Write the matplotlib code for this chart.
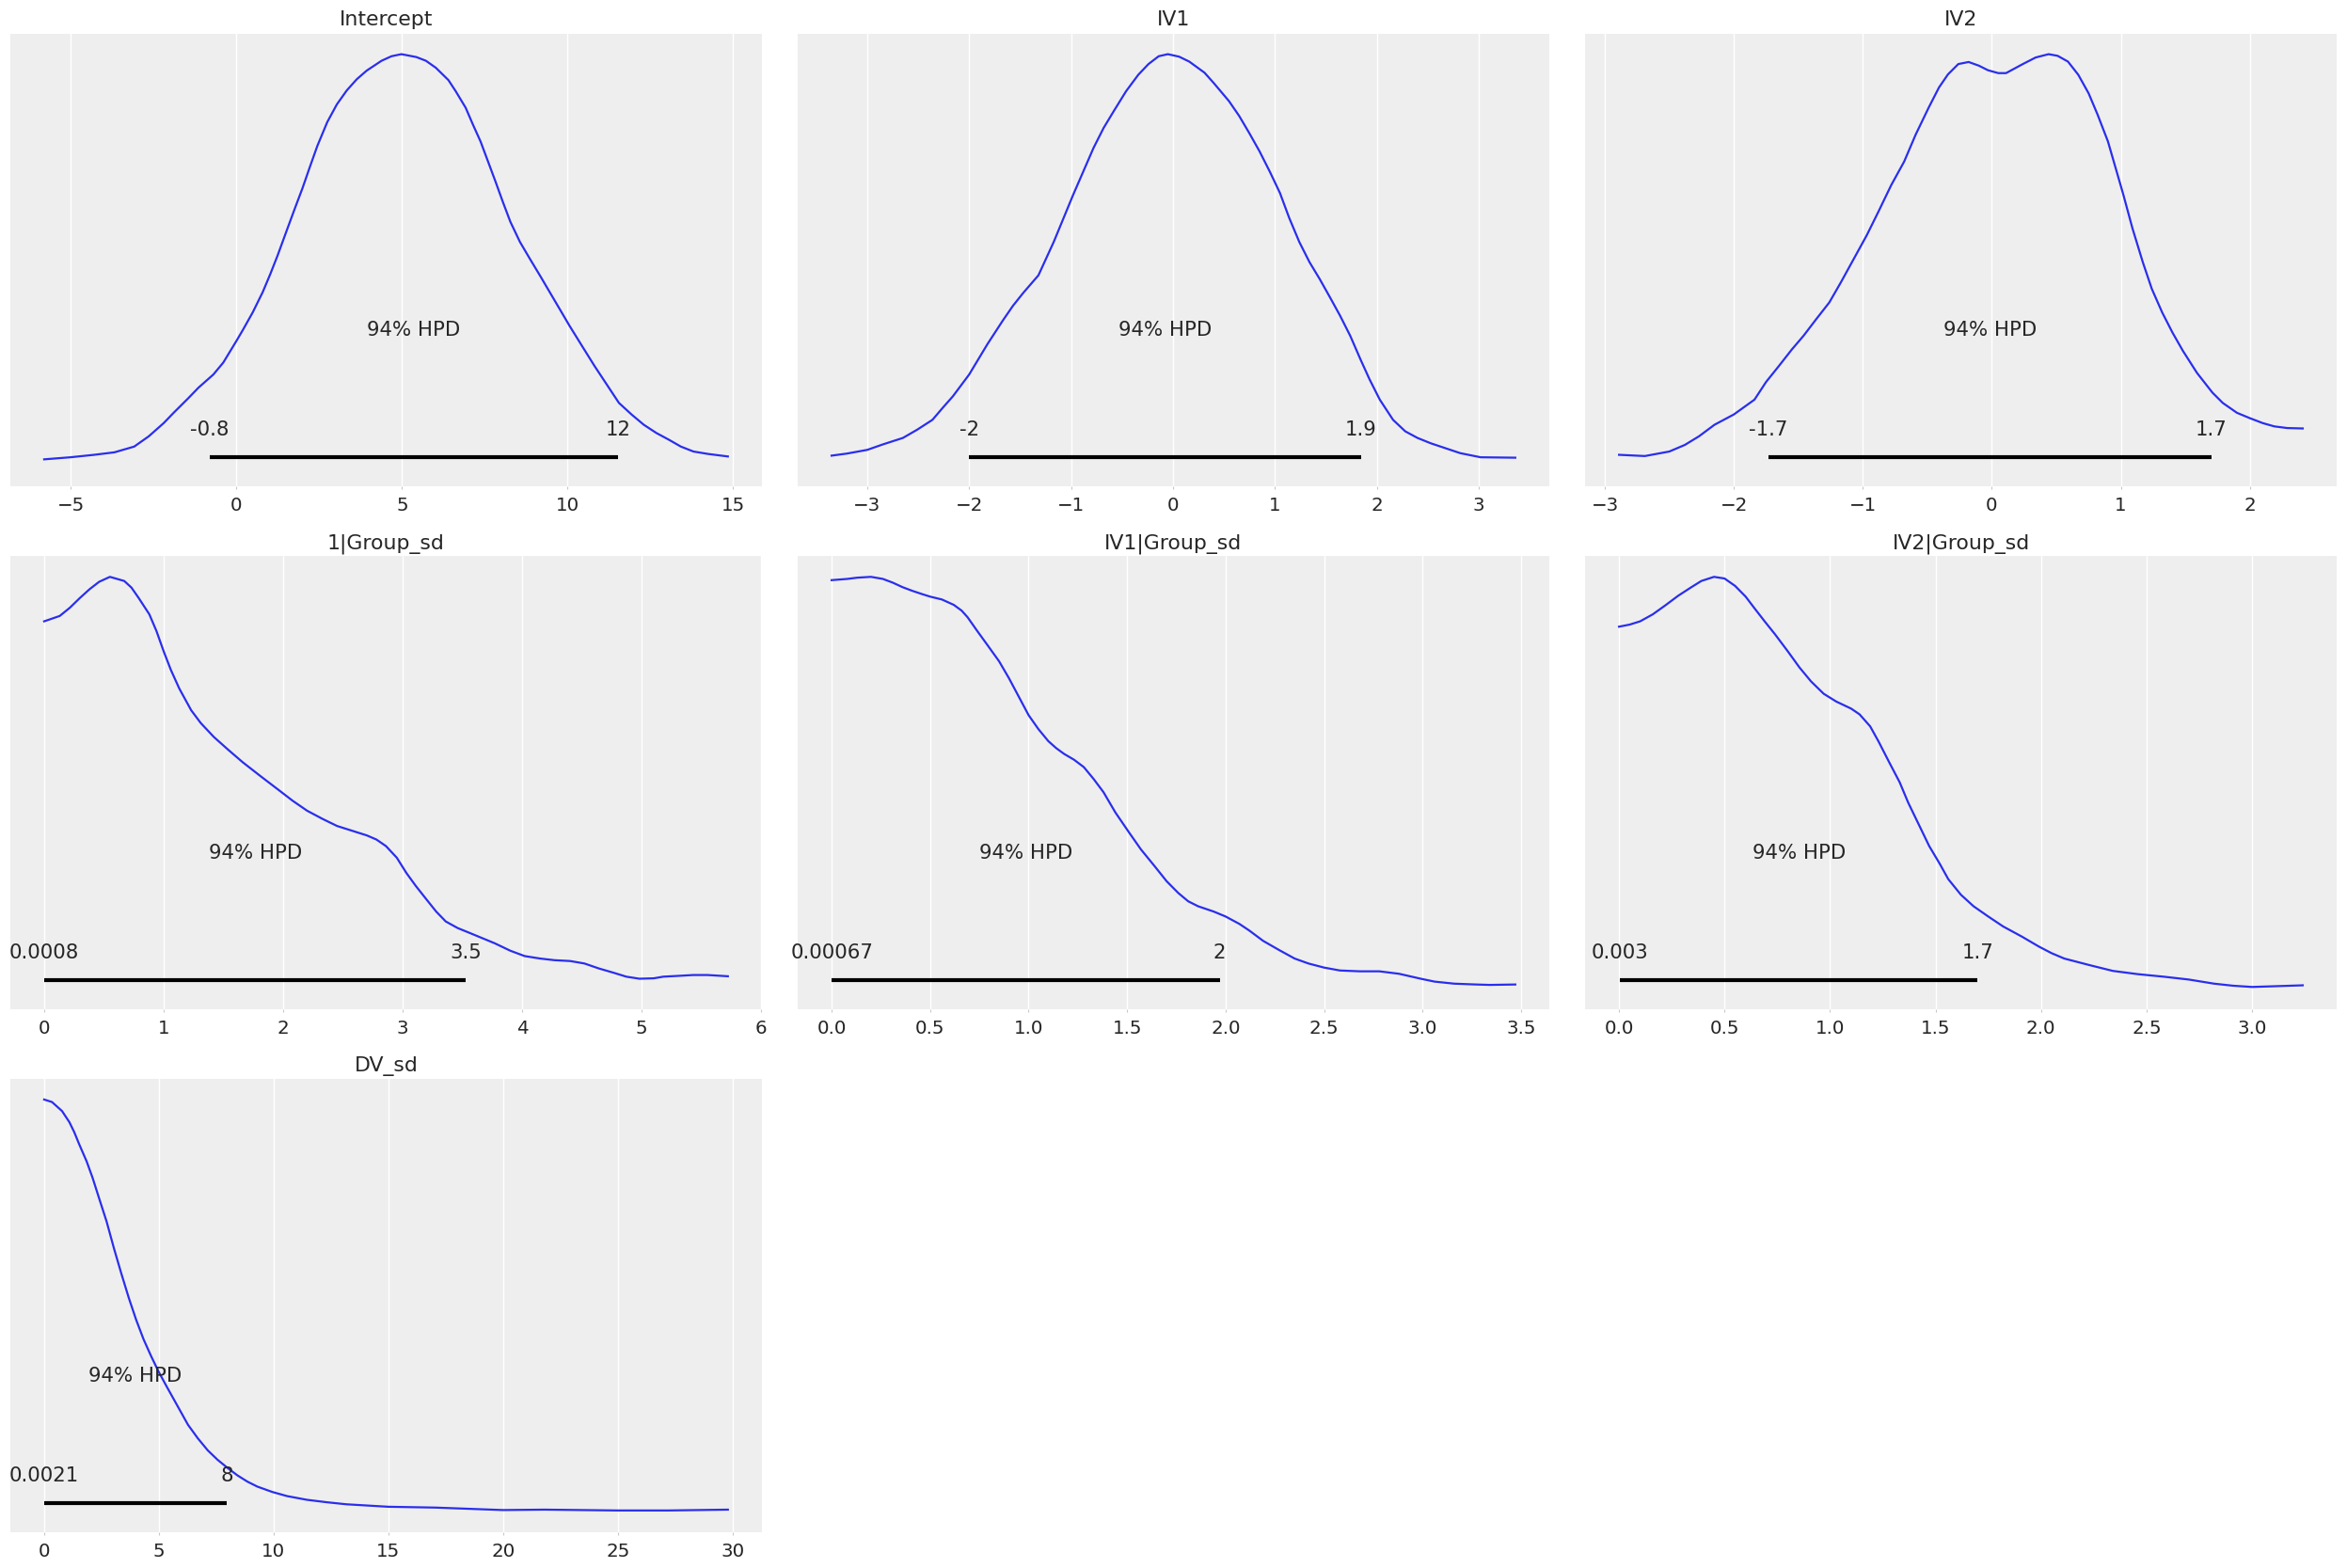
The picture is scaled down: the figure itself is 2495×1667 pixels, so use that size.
import numpy as np
import matplotlib
matplotlib.use('Agg')
import matplotlib.pyplot as plt

# posterior densities, (x, density) with peak scaled to 1
titles = ['Intercept', 'IV1', 'IV2', '1|Group_sd', 'IV1|Group_sd', 'IV2|Group_sd', 'DV_sd']

intercept_pts = [
    (-5.81, 0.016), (-5.02, 0.021), (-4.3, 0.027), (-3.69, 0.033), (-3.09, 0.047), (-2.65, 0.072),
    (-2.20, 0.104), (-1.90, 0.129), (-1.45, 0.165), (-1.15, 0.190), (-0.70, 0.222), (-0.40, 0.251),
    (0.0, 0.304), (0.19, 0.330), (0.49, 0.373), (0.79, 0.422), (1.02, 0.466), (1.24, 0.511),
    (1.54, 0.577), (1.76, 0.625), (1.99, 0.674), (2.21, 0.725), (2.44, 0.777), (2.74, 0.835),
    (3.03, 0.878), (3.33, 0.912), (3.63, 0.939), (3.93, 0.960), (4.38, 0.984), (4.68, 0.995),
    (4.98, 1.0), (5.43, 0.993), (5.72, 0.984), (6.02, 0.967), (6.40, 0.937), (6.62, 0.910),
    (6.92, 0.870), (7.14, 0.829), (7.37, 0.788), (7.82, 0.691), (8.04, 0.642), (8.27, 0.593),
    (8.56, 0.544), (8.86, 0.503), (9.16, 0.463), (9.46, 0.422), (9.76, 0.381), (10.06, 0.340),
    (10.43, 0.292), (10.81, 0.243), (11.18, 0.198), (11.55, 0.153), (11.93, 0.125), (12.30, 0.100),
    (12.68, 0.080), (13.05, 0.064), (13.42, 0.047), (13.80, 0.035), (14.25, 0.029), (14.84, 0.023)]

iv1_pts = [
    (-3.35, 0.025), (-3.20, 0.030), (-3.0, 0.039), (-2.85, 0.052), (-2.65, 0.068), (-2.51, 0.088),
    (-2.36, 0.112), (-2.26, 0.141), (-2.16, 0.169), (-2.0, 0.222), (-1.91, 0.259), (-1.82, 0.296),
    (-1.67, 0.353), (-1.57, 0.389), (-1.47, 0.420), (-1.32, 0.463), (-1.17, 0.544), (-0.98, 0.658),
    (-0.78, 0.772), (-0.68, 0.821), (-0.58, 0.862), (-0.46, 0.910), (-0.34, 0.950), (-0.24, 0.976),
    (-0.14, 0.995), (-0.05, 1.0), (0.06, 0.994), (0.16, 0.982), (0.31, 0.955), (0.40, 0.930),
    (0.55, 0.886), (0.65, 0.850), (0.75, 0.808), (0.85, 0.764), (0.95, 0.715), (1.05, 0.663),
    (1.14, 0.603), (1.24, 0.544), (1.34, 0.495), (1.44, 0.454), (1.54, 0.410), (1.64, 0.365),
    (1.74, 0.316), (1.84, 0.259), (1.93, 0.210), (2.03, 0.161), (2.16, 0.112), (2.28, 0.084),
    (2.40, 0.068), (2.53, 0.055), (2.82, 0.031), (3.02, 0.021), (3.36, 0.020)]

iv2_pts = [
    (-2.89, 0.027), (-2.69, 0.024), (-2.50, 0.035), (-2.38, 0.051), (-2.27, 0.072), (-2.15, 0.100),
    (-2.0, 0.125), (-1.84, 0.161), (-1.75, 0.204), (-1.65, 0.243), (-1.55, 0.283), (-1.46, 0.316),
    (-1.36, 0.357), (-1.26, 0.397), (-1.17, 0.446), (-1.07, 0.503), (-0.97, 0.560), (-0.88, 0.617),
    (-0.78, 0.682), (-0.68, 0.739), (-0.59, 0.805), (-0.49, 0.870), (-0.41, 0.919), (-0.34, 0.951),
    (-0.26, 0.976), (-0.18, 0.981), (-0.10, 0.972), (-0.03, 0.961), (0.05, 0.954), (0.11, 0.954),
    (0.24, 0.976), (0.34, 0.992), (0.44, 1.0), (0.51, 0.996), (0.59, 0.982), (0.67, 0.950),
    (0.75, 0.905), (0.82, 0.853), (0.90, 0.788), (0.96, 0.723), (1.02, 0.658), (1.09, 0.577),
    (1.17, 0.495), (1.24, 0.430), (1.32, 0.373), (1.40, 0.324), (1.48, 0.280), (1.59, 0.226),
    (1.71, 0.178), (1.79, 0.153), (1.90, 0.129), (2.0, 0.116), (2.10, 0.104), (2.19, 0.096),
    (2.29, 0.092), (2.41, 0.091)]

g1_sd_pts = [
    (0.0, 0.892), (0.13, 0.905), (0.215, 0.925), (0.30, 0.949), (0.38, 0.970), (0.46, 0.988),
    (0.55, 1.0), (0.67, 0.990), (0.73, 0.974), (0.79, 0.949), (0.88, 0.909), (0.94, 0.868),
    (1.0, 0.819), (1.06, 0.774), (1.13, 0.729), (1.23, 0.676), (1.31, 0.645), (1.42, 0.611),
    (1.54, 0.580), (1.66, 0.550), (1.81, 0.516), (1.95, 0.485), (2.08, 0.456), (2.20, 0.432),
    (2.33, 0.412), (2.45, 0.395), (2.70, 0.372), (2.78, 0.362), (2.86, 0.346), (2.95, 0.318),
    (3.03, 0.281), (3.11, 0.249), (3.20, 0.216), (3.28, 0.187), (3.36, 0.163), (3.46, 0.147),
    (3.57, 0.134), (3.67, 0.122), (3.77, 0.110), (3.90, 0.092), (4.02, 0.079), (4.15, 0.073),
    (4.27, 0.069), (4.40, 0.067), (4.52, 0.061), (4.64, 0.049), (4.77, 0.038), (4.87, 0.029),
    (4.98, 0.024), (5.10, 0.025), (5.18, 0.029), (5.31, 0.031), (5.43, 0.033), (5.55, 0.033),
    (5.72, 0.030)]

iv1_sd_pts = [
    (0.0, 0.992), (0.08, 0.995), (0.13, 0.998), (0.20, 1.0), (0.26, 0.995), (0.31, 0.986),
    (0.36, 0.975), (0.41, 0.966), (0.46, 0.958), (0.50, 0.952), (0.56, 0.945), (0.62, 0.932),
    (0.66, 0.918), (0.69, 0.902), (0.74, 0.868), (0.79, 0.835), (0.85, 0.795), (0.90, 0.754),
    (0.95, 0.709), (1.0, 0.664), (1.05, 0.630), (1.10, 0.601), (1.14, 0.584), (1.18, 0.570),
    (1.23, 0.556), (1.28, 0.538), (1.33, 0.509), (1.38, 0.477), (1.44, 0.428), (1.51, 0.379),
    (1.57, 0.338), (1.64, 0.297), (1.70, 0.261), (1.76, 0.232), (1.81, 0.212), (1.86, 0.200),
    (1.94, 0.187), (2.0, 0.175), (2.07, 0.157), (2.12, 0.141), (2.19, 0.116), (2.27, 0.094),
    (2.35, 0.073), (2.42, 0.061), (2.50, 0.051), (2.58, 0.044), (2.68, 0.042), (2.78, 0.042),
    (2.88, 0.036), (2.99, 0.024), (3.06, 0.017), (3.16, 0.012), (3.27, 0.010), (3.34, 0.009),
    (3.47, 0.010)]

iv2_sd_pts = [
    (0.0, 0.879), (0.05, 0.884), (0.10, 0.892), (0.16, 0.909), (0.22, 0.931), (0.28, 0.954),
    (0.34, 0.974), (0.39, 0.990), (0.45, 1.0), (0.50, 0.996), (0.55, 0.978), (0.60, 0.952),
    (0.64, 0.925), (0.69, 0.892), (0.74, 0.860), (0.80, 0.819), (0.855, 0.780), (0.91, 0.746),
    (0.97, 0.716), (1.03, 0.697), (1.10, 0.680), (1.14, 0.666), (1.19, 0.637), (1.23, 0.600),
    (1.28, 0.550), (1.33, 0.501), (1.37, 0.452), (1.42, 0.399), (1.47, 0.346), (1.52, 0.303),
    (1.56, 0.266), (1.62, 0.228), (1.68, 0.200), (1.75, 0.175), (1.82, 0.151), (1.91, 0.126),
    (1.99, 0.102), (2.05, 0.086), (2.11, 0.073), (2.23, 0.057), (2.34, 0.043), (2.46, 0.035),
    (2.58, 0.029), (2.70, 0.022), (2.82, 0.012), (2.91, 0.007), (3.0, 0.004), (3.12, 0.006),
    (3.24, 0.008)]

dv_sd_pts = [
    (0.0, 1.0), (0.34, 0.994), (0.78, 0.972), (1.10, 0.945), (1.31, 0.921), (1.53, 0.891),
    (1.85, 0.850), (2.11, 0.810), (2.39, 0.761), (2.72, 0.704), (3.04, 0.639), (3.36, 0.578),
    (3.69, 0.518), (4.01, 0.465), (4.33, 0.418), (4.66, 0.377), (4.98, 0.340), (5.30, 0.307),
    (5.62, 0.275), (5.95, 0.242), (6.27, 0.210), (6.70, 0.177), (7.13, 0.148), (7.56, 0.125),
    (8.0, 0.105), (8.43, 0.087), (8.86, 0.072), (9.29, 0.060), (9.94, 0.047), (10.58, 0.037),
    (11.44, 0.028), (12.31, 0.022), (13.17, 0.017), (15.0, 0.011), (17.05, 0.009), (20.0, 0.003),
    (21.8, 0.004), (25.0, 0.002), (27.2, 0.002), (29.8, 0.004)]

hpd_low = [-0.82, -2.0, -1.73, 0.0008, 0.00067, 0.003, 0.0021]
hpd_high = [11.52, 1.845, 1.70, 3.53, 1.97, 1.70, 7.95]
hpd_low_labels = ['-0.8', '-2', '-1.7', '0.0008', '0.00067', '0.003', '0.0021']
hpd_high_labels = ['12', '1.9', '1.7', '3.5', '2', '1.7', '8']

curves = [intercept_pts, iv1_pts, iv2_pts, g1_sd_pts, iv1_sd_pts, iv2_sd_pts, dv_sd_pts]

plt.rcParams['font.family'] = ['DejaVu Sans']
txt_color = '#262626'

fig, axes = plt.subplots(3, 3, figsize=(24.95, 16.67), dpi=100)
fig.subplots_adjust(left=0.00425, right=0.99571, top=0.97858, bottom=0.02304,
                    wspace=0.047, hspace=0.154)

for i, ax in enumerate(axes.flat):
    if i >= len(titles):
        ax.set_visible(False)
        continue
    pts = np.array(sorted(curves[i]))
    x, y = pts[:, 0], pts[:, 1]
    ax.set_facecolor('#eeeeee')
    ax.plot(x, y, color='#2a2eec', lw=1.6, solid_joinstyle='round')
    top = y.max()
    ax.set_ylim(-0.05 * top, 1.05 * top)
    plot_height = ax.get_ylim()[1]

    # hpd bar and labels
    ax.plot([hpd_low[i], hpd_high[i]], [plot_height * 0.02, plot_height * 0.02],
            lw=3.0, color='k', solid_capstyle='butt')
    ax.text(hpd_low[i], plot_height * 0.07, hpd_low_labels[i], size=15.3,
            ha='center', color=txt_color)
    ax.text(hpd_high[i], plot_height * 0.07, hpd_high_labels[i], size=15.3,
            ha='center', color=txt_color)
    ax.text((hpd_low[i] + hpd_high[i]) / 2, plot_height * 0.3, '94% HPD', size=15.3,
            ha='center', color=txt_color)

    ax.set_title(titles[i], fontsize=15.8, color=txt_color)
    ax.set_yticks([])
    ax.grid(True, axis='x', color='white', lw=1.0)
    ax.set_axisbelow(True)
    for s in ax.spines.values():
        s.set_visible(False)
    ax.tick_params(axis='x', length=2.5, width=0.8, color='#c8c8c8', pad=5.5,
                   labelsize=14.3, labelcolor=txt_color)

fig.savefig('out.png', dpi=100, facecolor='white')
